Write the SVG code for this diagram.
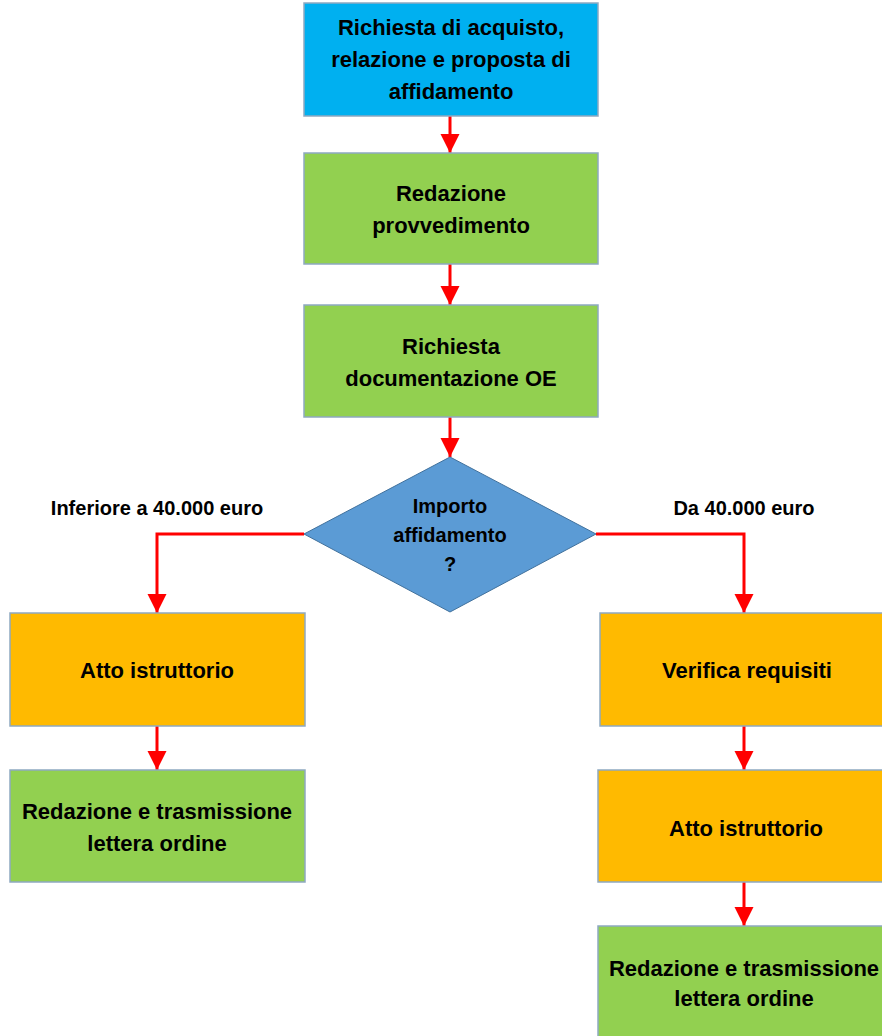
<svg xmlns="http://www.w3.org/2000/svg" width="882" height="1036" viewBox="0 0 882 1036">
<style>
.box{stroke:#8EA9C1;stroke-width:1.5}
.blue{fill:#00B0F0}
.green{fill:#92D050}
.orange{fill:#FFBA00}
.dia{fill:#5B9BD5;stroke:#41719C;stroke-width:1}
.t{font-family:"Liberation Sans",Arial,sans-serif;font-weight:bold;font-size:22px;fill:#000;text-anchor:middle}
.l{font-family:"Liberation Sans",Arial,sans-serif;font-weight:bold;font-size:20px;fill:#000;text-anchor:middle}
.d{font-family:"Liberation Sans",Arial,sans-serif;font-weight:bold;font-size:20px;fill:#000;text-anchor:middle}
.c{fill:none;stroke:#FF0000;stroke-width:3}
</style>
<defs>
<marker id="ah" viewBox="0 0 10 10" refX="10" refY="5" markerWidth="6.5" markerHeight="7" markerUnits="strokeWidth" orient="auto">
<path d="M0,0 L10,5 L0,10 Z" fill="#FF0000"/>
</marker>
</defs>
<rect width="882" height="1036" fill="#fff"/>
<g id="connectors">
<path class="c" d="M450,116 V153" marker-end="url(#ah)"/>
<path class="c" d="M450,264 V305" marker-end="url(#ah)"/>
<path class="c" d="M450,417 V457" marker-end="url(#ah)"/>
<path class="c" d="M304,534 H157 V613" marker-end="url(#ah)"/>
<path class="c" d="M596,534 H744 V613" marker-end="url(#ah)"/>
<path class="c" d="M157,726 V770" marker-end="url(#ah)"/>
<path class="c" d="M744,726 V770" marker-end="url(#ah)"/>
<path class="c" d="M744,882 V926" marker-end="url(#ah)"/>
</g>
<g id="n1">
<rect class="box blue" x="304" y="3" width="294" height="113"/>
<text class="t" x="451" y="35">Richiesta di acquisto,</text>
<text class="t" x="451" y="67">relazione e proposta di</text>
<text class="t" x="451" y="99">affidamento</text>
</g>
<g id="n2">
<rect class="box green" x="304" y="153" width="294" height="111"/>
<text class="t" x="451" y="201">Redazione</text>
<text class="t" x="451" y="233">provvedimento</text>
</g>
<g id="n3">
<rect class="box green" x="304" y="305" width="294" height="112"/>
<text class="t" x="451" y="354">Richiesta</text>
<text class="t" x="451" y="386">documentazione OE</text>
</g>
<g id="decision">
<polygon class="dia" points="450,457 596,534 450,612 304,534"/>
<text class="d" x="450" y="513">Importo</text>
<text class="d" x="450" y="542">affidamento</text>
<text class="d" x="450" y="571">?</text>
</g>
<g id="label-left"><text class="l" x="157" y="515">Inferiore a 40.000 euro</text></g>
<g id="label-right"><text class="l" x="744" y="515">Da 40.000 euro</text></g>
<g id="left1">
<rect class="box orange" x="10" y="613" width="295" height="113"/>
<text class="t" x="157" y="678">Atto istruttorio</text>
</g>
<g id="left2">
<rect class="box green" x="10" y="770" width="295" height="112"/>
<text class="t" x="157" y="819">Redazione e trasmissione</text>
<text class="t" x="157" y="851">lettera ordine</text>
</g>
<g id="right1">
<rect class="box orange" x="600" y="613" width="292" height="113"/>
<text class="t" x="747" y="678">Verifica requisiti</text>
</g>
<g id="right2">
<rect class="box orange" x="598" y="770" width="294" height="112"/>
<text class="t" x="746" y="836">Atto istruttorio</text>
</g>
<g id="right3">
<rect class="box green" x="598" y="926" width="294" height="120"/>
<text class="t" x="744" y="976">Redazione e trasmissione</text>
<text class="t" x="744" y="1006">lettera ordine</text>
</g>
</svg>
